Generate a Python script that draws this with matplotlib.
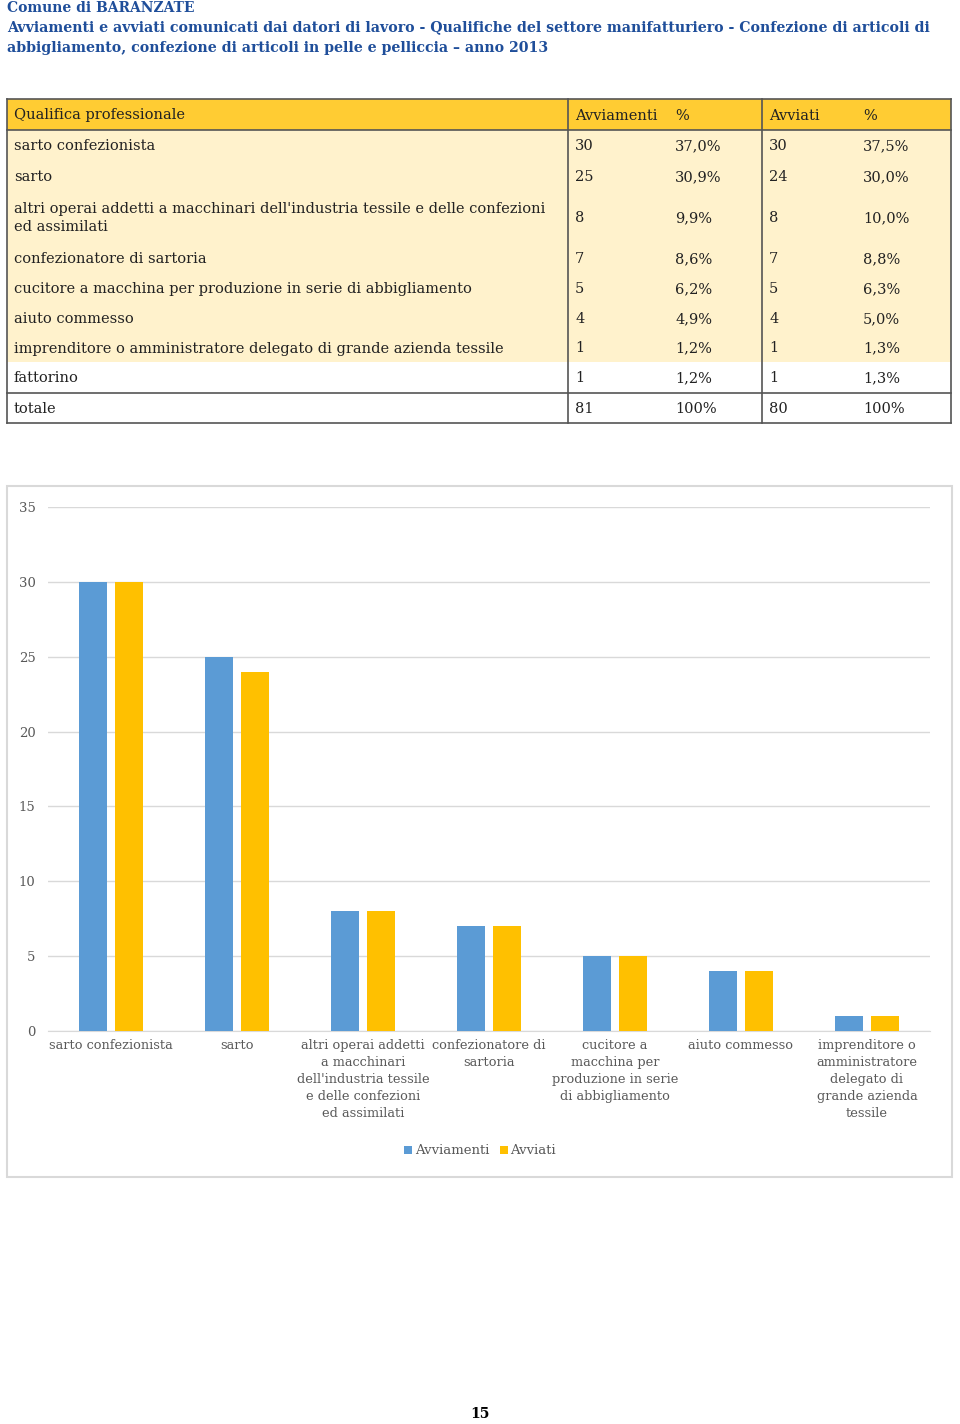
import numpy as np
import matplotlib.pyplot as plt
from matplotlib.patches import Rectangle

# dati della tabella
qualifiche = ["sarto confezionista", "sarto",
              "altri operai addetti a macchinari dell'industria tessile e delle confezioni\ned assimilati",
              "confezionatore di sartoria",
              "cucitore a macchina per produzione in serie di abbigliamento",
              "aiuto commesso",
              "imprenditore o amministratore delegato di grande azienda tessile",
              "fattorino", "totale"]
avviamenti = [30, 25, 8, 7, 5, 4, 1, 1, 81]
perc_avviamenti = ["37,0%", "30,9%", "9,9%", "8,6%", "6,2%", "4,9%", "1,2%", "1,2%", "100%"]
avviati = [30, 24, 8, 7, 5, 4, 1, 1, 80]
perc_avviati = ["37,5%", "30,0%", "10,0%", "8,8%", "6,3%", "5,0%", "1,3%", "1,3%", "100%"]

# dati del grafico
categorie = ["sarto confezionista", "sarto",
             "altri operai addetti\na macchinari\ndell'industria tessile\ne delle confezioni\ned assimilati",
             "confezionatore di\nsartoria",
             "cucitore a\nmacchina per\nproduzione in serie\ndi abbigliamento",
             "aiuto commesso",
             "imprenditore o\namministratore\ndelegato di\ngrande azienda\ntessile"]
bar_avviamenti = [30, 25, 8, 7, 5, 4, 1]
bar_avviati = [30, 24, 8, 7, 5, 4, 1]

blu = "#5B9BD5"
giallo = "#FFC000"
titolo_col = "#1F4E9A"
font = "DejaVu Serif"

fig = plt.figure(figsize=(9.6, 14.24), dpi=100)

# asse "pagina" in pixel
pg = fig.add_axes([0, 0, 1, 1])
pg.set_xlim(0, 960)
pg.set_ylim(1424, 0)
pg.axis("off")

pg.text(7, 8, "Comune di BARANZATE", color=titolo_col, fontsize=10, family=font,
        fontweight="bold", va="center")
pg.text(7, 27, "Avviamenti e avviati comunicati dai datori di lavoro - Qualifiche del settore manifatturiero - Confezione di articoli di",
        color=titolo_col, fontsize=10.2, family=font, fontweight="bold", va="center")
pg.text(7, 48, "abbigliamento, confezione di articoli in pelle e pelliccia – anno 2013",
        color=titolo_col, fontsize=10.2, family=font, fontweight="bold", va="center")

# tabella
x0, x1, x2, x3 = 7, 568, 762, 951
righe_y = [99, 130, 161, 191, 243, 273, 303, 333, 362, 393, 423]
pg.add_patch(Rectangle((x0, righe_y[0]), x3 - x0, righe_y[1] - righe_y[0],
                       facecolor="#FFCC33", edgecolor="none"))
pg.add_patch(Rectangle((x0, righe_y[1]), x3 - x0, righe_y[8] - righe_y[1],
                       facecolor="#FFF2CC", edgecolor="none"))
intest = ["Qualifica professionale", "Avviamenti", "%", "Avviati", "%"]
colx = [14, 575, 675, 769, 863]
fs = 10.5
ymid = (righe_y[0] + righe_y[1]) / 2
for xx, t in zip(colx, intest):
    pg.text(xx, ymid + 1, t, fontsize=fs, family=font, va="center", color="#222222")
for i in range(len(qualifiche)):
    ym = (righe_y[i + 1] + righe_y[i + 2]) / 2 + 1
    pg.text(colx[0], ym, qualifiche[i], fontsize=fs, family=font, va="center",
            color="#222222", linespacing=1.3)
    pg.text(colx[1], ym, str(avviamenti[i]), fontsize=fs, family=font, va="center", color="#222222")
    pg.text(colx[2], ym, perc_avviamenti[i], fontsize=fs, family=font, va="center", color="#222222")
    pg.text(colx[3], ym, str(avviati[i]), fontsize=fs, family=font, va="center", color="#222222")
    pg.text(colx[4], ym, perc_avviati[i], fontsize=fs, family=font, va="center", color="#222222")
lc = "#555555"
for yy in [righe_y[0], righe_y[1], righe_y[9], righe_y[10]]:
    pg.plot([x0, x3], [yy, yy], color=lc, lw=1.2)
for xx in [x0, x1, x2, x3]:
    pg.plot([xx, xx], [righe_y[0], righe_y[10]], color=lc, lw=1.2)

# riquadro grafico
pg.add_patch(Rectangle((7, 486), 945, 691, facecolor="white", edgecolor="#D9D9D9", lw=1.5))

pg.text(480, 1414, "15", fontsize=10, family=font, fontweight="bold", ha="center", va="center")

# grafico a barre
ax = fig.add_axes([48 / 960, 1 - 1031 / 1424, (930 - 48) / 960, (1031 - 507) / 1424])
x = np.arange(len(categorie))
w = 0.222
off = 0.143
ax.bar(x - off, bar_avviamenti, width=w, color=blu, label="Avviamenti", zorder=3)
ax.bar(x + off, bar_avviati, width=w, color=giallo, label="Avviati", zorder=3)
ax.set_xlim(-0.5, len(categorie) - 0.5)
ax.set_ylim(0, 35)
ax.set_yticks(np.arange(0, 36, 5))
ax.yaxis.grid(True, color="#D9D9D9", lw=1, zorder=0)
for s in ["top", "right", "left"]:
    ax.spines[s].set_visible(False)
ax.spines["bottom"].set_color("#D9D9D9")
ax.tick_params(axis="y", length=0, pad=9, labelcolor="#595959", labelsize=9.5)
ax.tick_params(axis="x", length=0, pad=6)
ax.set_xticks(x)
ax.set_xticklabels(categorie, fontsize=9.3, family=font, color="#595959", linespacing=1.4, va="top")
for lab in ax.get_yticklabels():
    lab.set_family(font)
ax.set_facecolor("none")
leg = ax.legend(loc="center", bbox_to_anchor=(0.49, (1031 - 1151) / (1031 - 507)), ncol=2, frameon=False,
                prop={"family": font, "size": 9.5}, handlelength=0.6, handleheight=0.6,
                columnspacing=0.8, handletextpad=0.2)
for t in leg.get_texts():
    t.set_color("#595959")

fig.savefig("out.png", dpi=100)
